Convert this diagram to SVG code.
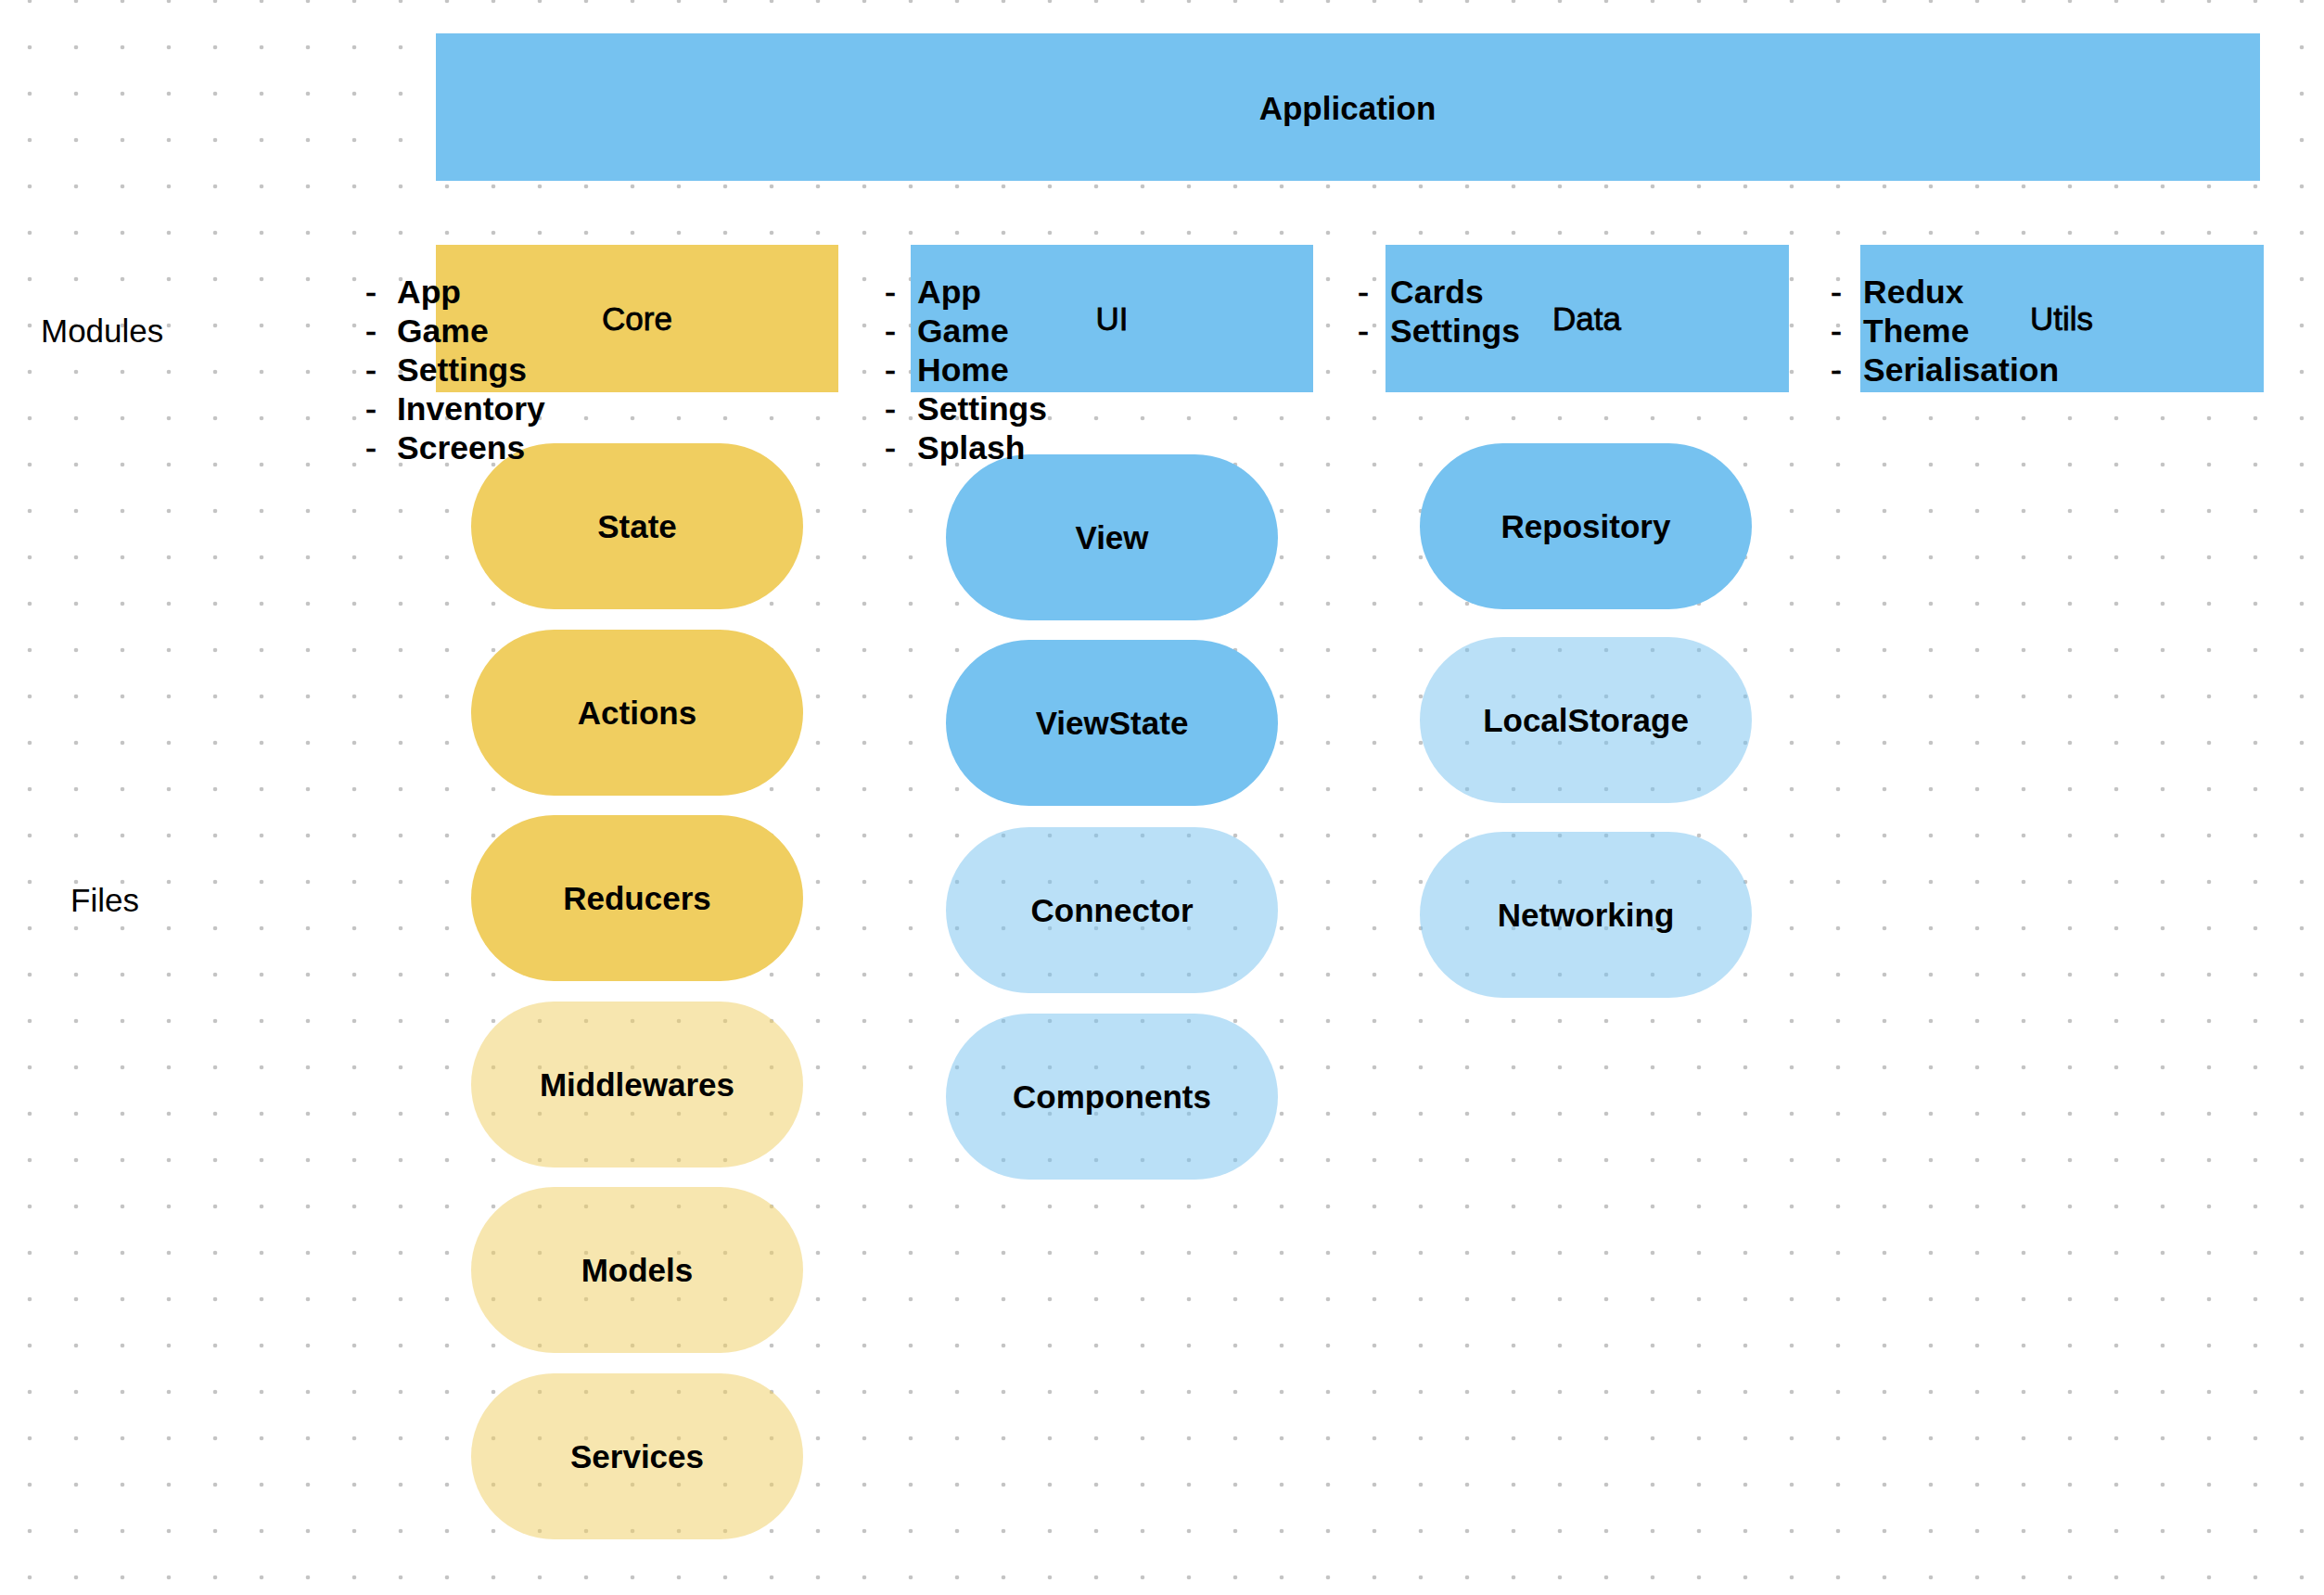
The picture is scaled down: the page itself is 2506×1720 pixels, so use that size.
<svg xmlns="http://www.w3.org/2000/svg" width="2506" height="1720" viewBox="0 0 2506 1720">
<defs>
<pattern id="dots" patternUnits="userSpaceOnUse" x="7" y="-24" width="50" height="50">
<circle cx="25" cy="25" r="2.3" fill="#c4c4c4"/>
</pattern>
<style>
.blue{fill:#76c2f0}
.yellow{fill:#f0ce60}
.lblue{fill:#76c2f0;fill-opacity:0.5}
.lyellow{fill:#f0ce60;fill-opacity:0.5}
.lbl{font-family:"Liberation Sans",Arial,sans-serif;font-size:35px;font-weight:bold;fill:#000;text-anchor:middle}
.mod{font-family:"Liberation Sans",Arial,sans-serif;font-size:35px;fill:#000;stroke:#000;stroke-width:0.8px;text-anchor:middle}
.side{font-family:"Liberation Sans",Arial,sans-serif;font-size:35px;fill:#000}
.li{font-family:"Liberation Sans",Arial,sans-serif;font-size:35.5px;font-weight:bold;fill:#000}
.dash{font-family:"Liberation Sans",Arial,sans-serif;font-size:36px;fill:#000;stroke:#000;stroke-width:0.6px;text-anchor:middle}
</style>
</defs>
<rect width="2506" height="1720" fill="#ffffff"/>
<rect width="2506" height="1720" fill="url(#dots)"/>

<g id="application">
<rect class="blue" x="470" y="36" width="1967" height="159"/>
<text class="lbl" x="1453" y="117" dy="0.35em">Application</text>
</g>

<g id="core">
<rect class="yellow" x="470" y="264" width="434" height="159"/>
<text class="mod" x="687" y="344" dy="0.35em">Core</text>
</g>
<g id="ui">
<rect class="blue" x="982" y="264" width="434" height="159"/>
<text class="mod" x="1199" y="344" dy="0.35em">UI</text>
</g>
<g id="data">
<rect class="blue" x="1494" y="264" width="435" height="159"/>
<text class="mod" x="1711" y="344" dy="0.35em">Data</text>
</g>
<g id="utils">
<rect class="blue" x="2006" y="264" width="435" height="159"/>
<text class="mod" x="2223" y="344" dy="0.35em">Utils</text>
</g>

<g id="state"><rect class="yellow" x="508" y="478" width="358" height="179" rx="89.5"/><text class="lbl" x="687" y="567.5" dy="0.35em">State</text></g>
<g id="actions"><rect class="yellow" x="508" y="679" width="358" height="179" rx="89.5"/><text class="lbl" x="687" y="768.5" dy="0.35em">Actions</text></g>
<g id="reducers"><rect class="yellow" x="508" y="879" width="358" height="179" rx="89.5"/><text class="lbl" x="687" y="968.5" dy="0.35em">Reducers</text></g>
<g id="middlewares"><rect class="lyellow" x="508" y="1080" width="358" height="179" rx="89.5"/><text class="lbl" x="687" y="1169.5" dy="0.35em">Middlewares</text></g>
<g id="models"><rect class="lyellow" x="508" y="1280" width="358" height="179" rx="89.5"/><text class="lbl" x="687" y="1369.5" dy="0.35em">Models</text></g>
<g id="services"><rect class="lyellow" x="508" y="1481" width="358" height="179" rx="89.5"/><text class="lbl" x="687" y="1570.5" dy="0.35em">Services</text></g>

<g id="view"><rect class="blue" x="1020" y="490" width="358" height="179" rx="89.5"/><text class="lbl" x="1199" y="579.5" dy="0.35em">View</text></g>
<g id="viewstate"><rect class="blue" x="1020" y="690" width="358" height="179" rx="89.5"/><text class="lbl" x="1199" y="779.5" dy="0.35em">ViewState</text></g>
<g id="connector"><rect class="lblue" x="1020" y="892" width="358" height="179" rx="89.5"/><text class="lbl" x="1199" y="981.5" dy="0.35em">Connector</text></g>
<g id="components"><rect class="lblue" x="1020" y="1093" width="358" height="179" rx="89.5"/><text class="lbl" x="1199" y="1182.5" dy="0.35em">Components</text></g>

<g id="repository"><rect class="blue" x="1531" y="478" width="358" height="179" rx="89.5"/><text class="lbl" x="1710" y="567.5" dy="0.35em">Repository</text></g>
<g id="localstorage"><rect class="lblue" x="1531" y="687" width="358" height="179" rx="89.5"/><text class="lbl" x="1710" y="776.5" dy="0.35em">LocalStorage</text></g>
<g id="networking"><rect class="lblue" x="1531" y="897" width="358" height="179" rx="89.5"/><text class="lbl" x="1710" y="986.5" dy="0.35em">Networking</text></g>

<g id="labels">
<text class="side" x="44" y="369">Modules</text>
<text class="side" x="76" y="983">Files</text>
</g>

<g id="core-list">
<text class="dash" x="400" y="327">-</text><text class="li" x="428" y="327">App</text>
<text class="dash" x="400" y="369">-</text><text class="li" x="428" y="369">Game</text>
<text class="dash" x="400" y="411">-</text><text class="li" x="428" y="411">Settings</text>
<text class="dash" x="400" y="453">-</text><text class="li" x="428" y="453">Inventory</text>
<text class="dash" x="400" y="495">-</text><text class="li" x="428" y="495">Screens</text>
</g>
<g id="ui-list">
<text class="dash" x="960" y="327">-</text><text class="li" x="989" y="327">App</text>
<text class="dash" x="960" y="369">-</text><text class="li" x="989" y="369">Game</text>
<text class="dash" x="960" y="411">-</text><text class="li" x="989" y="411">Home</text>
<text class="dash" x="960" y="453">-</text><text class="li" x="989" y="453">Settings</text>
<text class="dash" x="960" y="495">-</text><text class="li" x="989" y="495">Splash</text>
</g>
<g id="data-list">
<text class="dash" x="1470" y="327">-</text><text class="li" x="1499" y="327">Cards</text>
<text class="dash" x="1470" y="369">-</text><text class="li" x="1499" y="369">Settings</text>
</g>
<g id="utils-list">
<text class="dash" x="1980" y="327">-</text><text class="li" x="2009" y="327">Redux</text>
<text class="dash" x="1980" y="369">-</text><text class="li" x="2009" y="369">Theme</text>
<text class="dash" x="1980" y="411">-</text><text class="li" x="2009" y="411">Serialisation</text>
</g>
<g id="connectors"/>
</svg>
